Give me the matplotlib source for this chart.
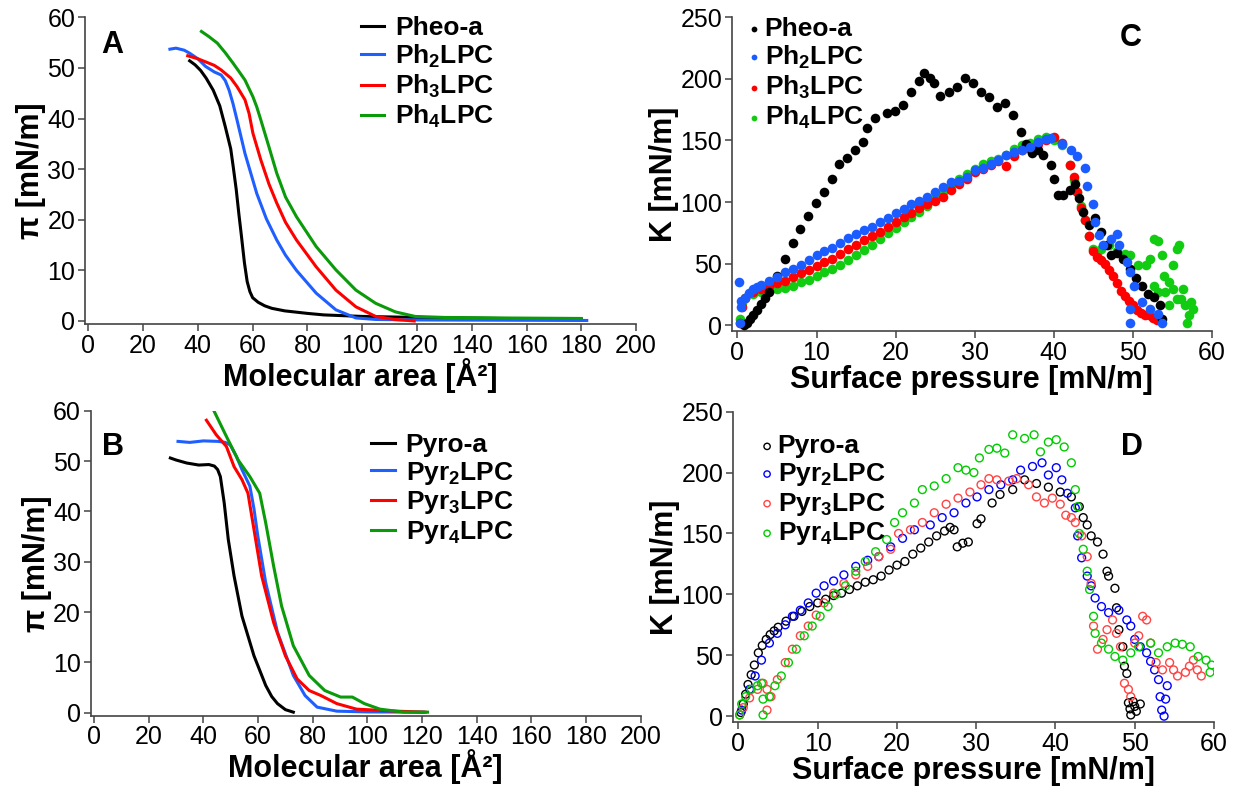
import numpy as np
import matplotlib
matplotlib.use("Agg")
import matplotlib.pyplot as plt

plt.rcParams['font.family'] = ['Liberation Sans', 'DejaVu Sans']
plt.rcParams['mathtext.fontset'] = 'custom'
plt.rcParams['mathtext.rm'] = 'Liberation Sans'
plt.rcParams['mathtext.bf'] = 'Liberation Sans:bold'

# ---- panel A: isotherms (area, pi)
pheo_a_area = [37, 39, 41, 43, 45.6, 48, 50, 52, 52.9, 54, 55, 55.8, 57, 58, 59, 60, 62, 64.4, 67, 71.7, 80, 86, 100, 120, 150, 180]
pheo_a_pi = [51.4, 50.6, 49.5, 48, 45.6, 42.5, 38.4, 34, 30.5, 26, 21, 17.3, 11.5, 7.8, 5.8, 4.6, 3.7, 3.0, 2.5, 2.0, 1.5, 1.2, 0.9, 0.7, 0.5, 0.35]
ph2_area = [29.8, 32, 35, 37, 40, 42.8, 46, 48.5, 50, 51.4, 52.8, 54.3, 57.2, 61.5, 65, 68.8, 72, 76, 83.2, 90.4, 97.7, 105, 120, 150, 182]
ph2_pi = [53.7, 53.9, 53.5, 52.9, 51.8, 50.3, 49.2, 48.6, 47.5, 45.6, 43, 39.7, 33.1, 25.2, 20.2, 16, 13, 10, 5.5, 2.2, 0.6, 0.3, 0.2, 0.15, 0.1]
ph3_area = [36.3, 40, 42.8, 46, 48.5, 52, 54.3, 57.2, 58.7, 60.1, 63, 66, 68.8, 72, 76, 83.2, 90.4, 97.7, 104.9, 112, 119]
ph3_pi = [52.4, 51.8, 51.2, 50.5, 49.6, 48, 46.3, 43.7, 41, 37.1, 31.8, 27, 23.3, 19.5, 16, 10.7, 6.1, 2.8, 0.9, 0.3, 0.0]
ph4_area = [41.3, 44, 47.1, 50, 52.9, 55, 57.2, 60.1, 61.5, 63, 65.9, 68.8, 72, 76, 83.2, 90.4, 97.7, 104.9, 112.1, 119.3, 130, 150, 180]
ph4_pi = [57.2, 56.2, 54.9, 53, 50.9, 49.3, 47.6, 44.3, 42.3, 39.7, 34.5, 29.2, 24.5, 20.6, 14.7, 10.1, 6.1, 3.5, 1.8, 0.9, 0.7, 0.6, 0.5]

# ---- panel B: isotherms (area, pi)
pyro_a_area = [27.9, 30, 33.9, 38.3, 42, 44, 45.2, 46.2, 47.6, 49.1, 51.2, 54.1, 58.5, 62.8, 65, 67.1, 70, 72.9]
pyro_a_pi = [50.6, 50.2, 49.6, 49.2, 49.3, 49.0, 48.3, 46.9, 41.7, 34.4, 27.2, 19.2, 11.3, 5.4, 3.2, 1.8, 0.6, 0.1]
pyr2_area = [30.7, 35, 40, 45.5, 48, 49.8, 52, 54.1, 57, 58.5, 59.9, 62.8, 67.1, 72.9, 77.2, 81.6, 88.8, 100, 120.5]
pyr2_pi = [53.9, 53.7, 54.0, 53.9, 53.7, 53.2, 51, 48.3, 45, 40.5, 35.1, 25.8, 16, 7.4, 3.4, 1.1, 0.3, 0.15, 0.1]
pyr3_area = [41.1, 44.7, 48.4, 51.2, 54.1, 56.3, 58.5, 61.3, 65.7, 70, 74.3, 78.7, 83, 88.8, 96, 110.4, 121.2]
pyr3_pi = [58.1, 55.2, 52.9, 48.9, 46.3, 43.6, 36.4, 27.2, 17.9, 11.3, 6.7, 4.4, 3.4, 1.8, 0.7, 0.3, 0.1]
pyr4_area = [44, 48.4, 52.7, 57, 60.6, 62.8, 65.7, 68.6, 72.9, 78.7, 84.4, 90.2, 94.5, 98.9, 104.6, 113.3, 122]
pyr4_pi = [59.8, 54.9, 50.2, 46.9, 43.6, 37.7, 29.1, 21.2, 13.3, 7.4, 4.4, 3.1, 3.1, 1.8, 0.7, 0.1, 0.1]

# ---- panel C: compressibility modulus (pi, K)
c_pheo_pi = [0.8, 1.2, 1.6, 2.0, 2.5, 3.0, 3.5, 4.0, 5.0, 6.0, 7.0, 7.9, 8.9, 9.9, 10.9, 11.9, 12.9, 13.9,
             14.9, 15.9, 16.4, 17.4, 18.9, 19.9, 20.9, 21.9, 22.9, 23.6, 24.3, 24.8, 25.6, 26.8, 27.8, 28.8,
             29.8, 30.8, 31.8, 32.8, 33.8, 34.8, 35.8, 36.5, 37.3, 38.0, 38.7, 39.7, 40.0, 40.5, 41.2, 42.0,
             42.7, 43.2, 43.7, 44.5, 45.2, 46.0, 46.7, 47.2, 48.0, 48.7, 49.7, 50.4, 51.2, 51.9, 52.7, 53.4, 53.7]
c_pheo_k = [0, 2, 5, 8, 12, 17, 22, 27, 40, 54, 67, 78, 89, 99, 108, 119, 131, 136,
            142, 149, 160, 168, 172, 174, 179, 189, 198, 205, 201, 197, 186, 189, 193, 201,
            197, 189, 185, 177, 180, 171, 157, 147, 140, 142, 138, 130, 119, 106, 106, 110,
            115, 103, 92, 81, 87, 76, 65, 57, 59, 54, 46, 38, 32, 25, 23, 16, 5]
c_ph2_pi = [0.25, 0.3, 0.4, 0.5, 1.0, 1.5, 2.0, 2.5, 3.0, 4.0, 5.0, 6.0, 7.0, 8.0, 9.0, 10.0, 11.0, 12.0, 13.0,
            14.0, 15.0, 16.0, 17.0, 18.0, 19.0, 20.0, 21.0, 22.0, 23.0, 24.0, 25.0, 26.0, 27.0, 28.0, 29.0,
            30.0, 31.0, 32.0, 33.0, 34.0, 35.0, 36.0, 37.0, 38.0, 39.0, 39.7, 41.0, 42.2, 43.0, 43.9, 44.2,
            45.0, 45.2, 45.7, 46.2, 47.2, 48.0, 48.2, 49.2, 49.7, 50.2, 49.7, 49.7, 51.2, 52.2, 53.2, 53.7]
c_ph2_k = [35, 2, 15, 20, 22, 26, 29, 31, 33, 36, 39, 43, 46, 49, 53, 57, 60, 63, 67,
           71, 74, 77, 80, 84, 87, 91, 94, 98, 101, 104, 108, 112, 116, 117, 120,
           126, 128, 131, 134, 138, 141, 142, 145, 149, 151, 152, 147, 142, 137, 128, 113,
           98, 84, 73, 65, 70, 74, 65, 51, 43, 32, 13, 2, 19, 13, 9, 2]
c_ph3_pi = [0.3, 0.6, 1.0, 2.0, 3.0, 4.0, 5.0, 6.0, 7.0, 8.0, 9.0, 10.0, 11.0, 12.0, 13.0, 14.0, 15.0,
            16.0, 17.0, 18.0, 19.0, 20.0, 21.0, 22.0, 23.0, 24.0, 25.0, 26.0, 27.0, 28.0, 29.0, 30.0,
            31.0, 32.0, 33.0, 34.0, 35.0, 36.0, 37.0, 38.0, 39.0, 40.0, 41.0, 42.0, 42.5, 43.0, 43.5,
            44.0, 44.5, 45.0, 45.5, 46.0, 46.5, 47.0, 47.5, 48.0, 48.5, 49.0, 49.5, 50.0, 50.5, 51.0,
            51.5, 52.0, 52.5, 53.0]
c_ph3_k = [2, 15, 22, 27, 29, 32, 34, 36, 39, 42, 45, 48, 51, 54, 58, 62, 65,
           69, 72, 76, 80, 84, 88, 91, 95, 98, 101, 104, 110, 115, 119, 124,
           127, 130, 133, 129, 137, 142, 143, 147, 150, 153, 148, 130, 120, 108, 95,
           85, 72, 60, 55, 53, 50, 45, 40, 34, 28, 24, 20, 16, 12, 10,
           8, 8, 6, 4]
c_ph4_pi = [0.3, 0.6, 1.0, 2.0, 3.0, 4.0, 5.0, 6.0, 7.0, 8.0, 9.0, 10.0, 11.0, 12.0, 13.0, 14.0, 15.0,
            16.0, 17.0, 18.0, 19.0, 20.0, 21.0, 22.0, 23.0, 24.0, 25.0, 26.0, 27.0, 28.0, 29.0, 30.0,
            31.0, 32.0, 33.0, 34.0, 35.0, 36.0, 37.0, 38.0, 39.0, 40.0, 41.0, 42.0, 42.5, 43.0, 43.5,
            44.0, 44.5, 45.0, 45.5, 46.0, 47.0, 48.0, 49.0, 49.7, 50.7, 51.7, 52.2, 52.7, 53.2, 53.7,
            53.9, 54.1, 54.6, 55.1, 55.6, 55.6, 55.9, 56.4, 56.6, 56.9, 57.1, 57.4, 57.6, 52.7, 53.2,
            54.6, 55.1, 56.1]
c_ph4_k = [5, 18, 22, 25, 27, 28, 29, 30, 32, 35, 37, 40, 43, 46, 49, 53, 57,
           61, 65, 70, 75, 79, 84, 88, 92, 97, 103, 108, 114, 119, 123, 127,
           131, 133, 135, 138, 143, 146, 148, 151, 153, 150, 146, 130, 118, 108, 97,
           85, 72, 62, 58, 62, 65, 60, 58, 57, 49, 49, 54, 70, 68, 57,
           40, 27, 35, 49, 21, 62, 65, 29, 16, 2, 8, 19, 13, 32, 27,
           16, 29, 21]

# ---- panel D: compressibility modulus (pi, K)
d_pyro_pi = [0.3, 0.6, 0.9, 1.2, 1.6, 2.0, 2.5, 3.0, 3.5, 4.0, 4.5, 5.0, 6.0, 7.0, 8.0, 9.0, 10.0, 11.0,
             12.0, 13.0, 14.0, 15.0, 16.0, 17.0, 18.0, 19.0, 20.0, 21.0, 22.0, 23.0, 24.0, 25.0, 26.0,
             26.7, 27.2, 27.6, 28.3, 29.0, 30.1, 30.6, 32.0, 33.0, 34.6, 36.1, 37.6, 39.1, 40.6, 42.0,
             43.0, 43.5, 44.0, 44.5, 45.3, 46.0, 46.5, 46.7, 47.5, 47.7, 48.0, 48.5, 48.7, 49.0, 49.2,
             49.5, 50.0, 50.7, 50.2, 49.4, 49.8]
d_pyro_k = [3, 10, 18, 26, 34, 42, 52, 58, 63, 67, 70, 73, 78, 82, 86, 90, 93, 96,
            99, 101, 104, 107, 110, 112, 115, 120, 124, 127, 133, 138, 143, 148, 152,
            155, 153, 139, 142, 143, 158, 162, 175, 182, 186, 194, 191, 188, 184, 180,
            172, 163, 157, 148, 143, 133, 119, 115, 105, 89, 71, 57, 41, 35, 11,
            1, 8, 10, 4, 6, 12]
d_pyr2_pi = [0.4, 1.4, 2.1, 2.9, 3.9, 4.9, 5.9, 6.8, 7.8, 8.8, 9.8, 10.8, 12.0, 13.3, 14.8, 16.3,
             17.7, 19.2, 20.7, 22.2, 24.2, 25.7, 27.2, 28.7, 30.1, 31.6, 33.1, 34.6, 35.6, 37.1,
             38.3, 39.1, 40.1, 40.8, 41.5, 42.5, 42.8, 43.3, 44.0, 44.5, 45.0, 45.8, 46.7, 48.0,
             49.0, 49.5, 50.0, 50.7, 51.5, 52.0, 52.5, 53.0, 53.2, 53.4, 53.7, 54.1, 53.9]
d_pyr2_k = [5, 22, 33, 46, 60, 68, 75, 82, 87, 93, 101, 107, 111, 116, 123, 128,
            131, 139, 146, 153, 157, 163, 167, 175, 180, 186, 190, 194, 202, 205,
            208, 198, 204, 194, 183, 171, 148, 130, 115, 107, 97, 90, 85, 87,
            79, 74, 63, 57, 52, 45, 38, 30, 16, 5, 0, 25, 14]
d_pyr3_pi = [0.15, 0.6, 1.4, 2.4, 3.1, 3.6, 3.6, 4.1, 4.9, 5.9, 6.8, 7.8, 8.8, 9.8, 10.8, 12.0, 13.3,
             14.8, 16.3, 17.7, 19.2, 20.2, 21.7, 23.2, 24.7, 26.2, 27.7, 29.2, 30.6, 31.6, 32.6, 34.1,
             35.1, 36.6, 37.6, 38.6, 39.6, 40.6, 41.3, 42.0, 42.5, 43.3, 44.0, 44.5, 44.8, 45.3, 46.0,
             46.5, 47.2, 47.7, 48.2, 48.7, 49.2, 49.5, 50.0, 50.5, 51.0, 51.5, 52.0, 52.7, 53.5, 54.4,
             54.9, 55.4, 56.4, 56.9, 57.4, 57.9, 58.4]
d_pyr3_k = [1, 7, 15, 22, 27, 22, 5, 16, 30, 44, 55, 66, 74, 83, 93, 101, 109,
            116, 123, 131, 137, 150, 153, 159, 167, 174, 179, 184, 190, 195, 194, 193,
            195, 190, 180, 175, 179, 174, 165, 163, 159, 148, 131, 109, 74, 55, 63,
            71, 79, 68, 57, 27, 22, 16, 60, 66, 82, 79, 60, 44, 38, 44,
            38, 33, 36, 41, 46, 38, 33]
d_pyr4_pi = [0.15, 0.4, 0.9, 1.6, 2.4, 2.9, 3.1, 3.1, 3.9, 4.6, 5.4, 6.3, 7.3, 8.3, 9.3, 10.3, 11.3,
             12.3, 13.5, 14.8, 16.0, 17.3, 18.7, 19.7, 20.7, 22.2, 23.2, 24.7, 26.2, 27.7, 28.7, 29.7,
             30.4, 31.6, 32.6, 33.6, 34.6, 36.1, 37.3, 38.1, 39.1, 40.1, 41.1, 42.0, 42.5, 42.8, 43.0,
             43.5, 44.0, 44.3, 44.8, 45.0, 45.8, 46.7, 47.5, 48.5, 49.5, 50.5, 52.0, 53.0, 54.1, 55.1,
             56.0, 57.0, 58.0, 59.0, 59.5, 59.7]
d_pyr4_k = [1, 10, 16, 22, 25, 27, 14, 1, 16, 25, 33, 44, 55, 66, 74, 82, 90,
            100, 107, 119, 127, 135, 145, 159, 167, 175, 186, 189, 195, 204, 202, 200,
            212, 219, 220, 216, 231, 228, 231, 217, 225, 227, 221, 208, 186, 172, 150,
            137, 119, 104, 82, 68, 60, 55, 49, 46, 52, 57, 60, 52, 57, 60,
            59, 57, 49, 46, 36, 42]

LC_BLUE = '#1f5fff'
LC_GREEN = '#0a9a0a'

fig = plt.figure(figsize=(12.36, 7.93), dpi=100)
axA = fig.add_axes([0.0688, 0.5914, 0.4458, 0.3868])
axB = fig.add_axes([0.0735, 0.0975, 0.4448, 0.3846])
axC = fig.add_axes([0.5922, 0.5822, 0.3883, 0.3960])
axD = fig.add_axes([0.5930, 0.0892, 0.3892, 0.3917])


def style(ax):
    for s in ['top', 'right']:
        ax.spines[s].set_visible(False)
    for s in ['left', 'bottom']:
        ax.spines[s].set_color('#444444')
        ax.spines[s].set_linewidth(1.2)
    ax.tick_params(direction='out', length=5, width=1.1, color='#444444',
                   labelsize=18, pad=2)


def sub(name, n, tail):
    return name + r'$_{\mathbf{' + n + '}}$' + tail


lw = 2.2
axA.plot(pheo_a_area, pheo_a_pi, color='black', lw=lw, label='Pheo-a')
axA.plot(ph2_area, ph2_pi, color=LC_BLUE, lw=lw, label=sub('Ph', '2', 'LPC'))
axA.plot(ph3_area, ph3_pi, color='red', lw=lw, label=sub('Ph', '3', 'LPC'))
axA.plot(ph4_area, ph4_pi, color=LC_GREEN, lw=lw, label=sub('Ph', '4', 'LPC'))

axB.plot(pyro_a_area, pyro_a_pi, color='black', lw=lw, label='Pyro-a')
axB.plot(pyr2_area, pyr2_pi, color=LC_BLUE, lw=lw, label=sub('Pyr', '2', 'LPC'))
axB.plot(pyr3_area, pyr3_pi, color='red', lw=lw, label=sub('Pyr', '3', 'LPC'))
axB.plot(pyr4_area, pyr4_pi, color=LC_GREEN, lw=lw, label=sub('Pyr', '4', 'LPC'))

ms = 48
axC.scatter(c_pheo_pi, c_pheo_k, s=ms, color='black', lw=0, label='Pheo-a', zorder=3)
axC.scatter(c_ph4_pi, c_ph4_k, s=ms, color='#11cc11', lw=0, label=sub('Ph', '4', 'LPC'), zorder=2)
axC.scatter(c_ph3_pi, c_ph3_k, s=ms, color='red', lw=0, label=sub('Ph', '3', 'LPC'), zorder=2)
axC.scatter(c_ph2_pi, c_ph2_k, s=ms, color='#1a5cff', lw=0, label=sub('Ph', '2', 'LPC'), zorder=3)

mo = 32
axD.scatter(d_pyro_pi, d_pyro_k, s=mo, facecolors='none', edgecolors='black', lw=1.0, label='Pyro-a')
axD.scatter(d_pyr2_pi, d_pyr2_k, s=mo, facecolors='none', edgecolors='#0000ff', lw=1.0, label=sub('Pyr', '2', 'LPC'))
axD.scatter(d_pyr3_pi, d_pyr3_k, s=mo, facecolors='none', edgecolors='#ff4444', lw=1.0, label=sub('Pyr', '3', 'LPC'))
axD.scatter(d_pyr4_pi, d_pyr4_k, s=mo, facecolors='none', edgecolors='#00cc00', lw=1.0, label=sub('Pyr', '4', 'LPC'))

for ax in (axA, axB):
    style(ax)
    ax.set_xlim(-1.2, 200)
    ax.set_ylim(-0.6, 60)
    ax.set_xticks(np.arange(0, 201, 20))
    ax.set_yticks(np.arange(0, 61, 10))
    ax.set_xlabel('Molecular area [Å²]', fontsize=22, fontweight='bold', labelpad=0)
    ax.set_ylabel('π [mN/m]', fontsize=22, fontweight='bold', labelpad=1)

for ax in (axC, axD):
    style(ax)
    ax.set_xlim(-0.7, 60)
    ax.set_ylim(-5, 250)
    ax.set_xticks(np.arange(0, 61, 10))
    ax.set_yticks(np.arange(0, 251, 50))
    ax.set_xlabel('Surface pressure [mN/m]', fontsize=22, fontweight='bold', labelpad=0)
    ax.set_ylabel('K [mN/m]', fontsize=22, fontweight='bold', labelpad=1)

leg_kw = dict(frameon=False, prop={'weight': 'bold', 'size': 19},
              borderaxespad=0, borderpad=0, labelspacing=0.1)
axA.legend(loc='upper left', bbox_to_anchor=(0.5, 1.004), handlelength=0.9,
           handletextpad=0.4, **leg_kw)
axB.legend(loc='upper left', bbox_to_anchor=(0.51, 0.927), handlelength=0.9,
           handletextpad=0.4, **leg_kw)
hC = axC.get_legend_handles_labels()
order = [0, 3, 2, 1]
axC.legend([hC[0][i] for i in order], [hC[1][i] for i in order], loc='upper left',
           bbox_to_anchor=(0.035, 1.002), handlelength=0.4, markerscale=0.6,
           handletextpad=0.2, **leg_kw)
axD.legend(loc='upper left', bbox_to_anchor=(0.06, 0.927), handlelength=0.4, markerscale=0.8,
           handletextpad=0.2, **leg_kw)

for ax, lab, x, y in [(axA, 'A', 0.05, 0.91), (axB, 'B', 0.04, 0.88),
                      (axC, 'C', 0.83, 0.934), (axD, 'D', 0.83, 0.886)]:
    ax.text(x, y, lab, transform=ax.transAxes, fontsize=22, fontweight='bold',
            ha='center', va='center')

fig.savefig('out.png', dpi=100)
